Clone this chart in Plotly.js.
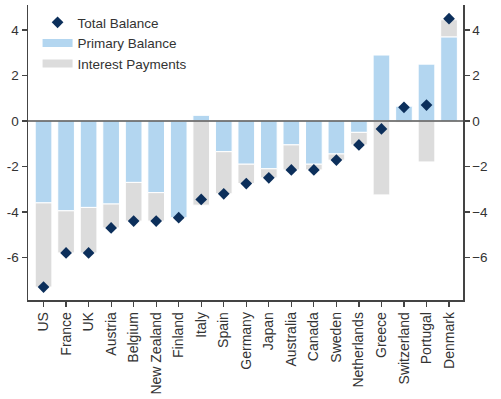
<!DOCTYPE html>
<html><head><meta charset="utf-8">
<script src="https://cdn.plot.ly/plotly-3.0.1.min.js"></script>
<style>html,body{margin:0;padding:0;background:#fff}#c{width:501px;height:399px}</style>
</head><body><div id="c"></div>
<script>
const countries = ["US","France","UK","Austria","Belgium","New Zealand","Finland","Italy","Spain","Germany","Japan","Australia","Canada","Sweden","Netherlands","Greece","Switzerland","Portugal","Denmark"];
const primaryBalance = [-3.6,-3.95,-3.8,-3.65,-2.7,-3.15,-4.25,0.25,-1.35,-1.9,-2.1,-1.05,-1.9,-1.45,-0.5,2.9,0.65,2.5,3.7];
const interestPayments = [-3.7,-1.85,-2.0,-1.05,-1.7,-1.25,0.0,-3.7,-1.85,-0.85,-0.4,-1.1,-0.25,-0.27,-0.55,-3.25,-0.05,-1.8,0.75];
const totalBalance = [-7.3,-5.8,-5.8,-4.7,-4.4,-4.4,-4.25,-3.45,-3.2,-2.75,-2.5,-2.15,-2.15,-1.72,-1.05,-0.35,0.6,0.7,4.5];
const yTicks = [-6,-4,-2,0,2,4];

const blue = '#b3d6f0', gray = '#dcdcdc', navy = '#0c2f5b';
const font = {family:'"Liberation Sans", Arial, sans-serif', size:13.5, color:'#333'};
const xfont = {family:'"Liberation Sans", Arial, sans-serif', size:14, color:'#333'};
const yr = [-7.87, 5.1];

const traces = [
  {type:'bar', x:countries, y:primaryBalance, name:'Primary Balance', legendgroup:'pb', showlegend:false,
   marker:{color:blue, line:{color:'#fff', width:1}}, hoverinfo:'skip'},
  {type:'bar', x:countries, y:interestPayments, name:'Interest Payments', legendgroup:'ip', showlegend:false,
   marker:{color:gray, line:{color:'#fff', width:1}}, hoverinfo:'skip'},
  {type:'scatter', mode:'markers', x:countries, y:totalBalance, name:'Total Balance', yaxis:'y2',
   marker:{symbol:'diamond', size:9, color:navy}},
  {type:'scatter', mode:'lines', x:[null], y:[null], name:'Primary Balance', legendgroup:'pb',
   line:{color:blue, width:8}},
  {type:'scatter', mode:'lines', x:[null], y:[null], name:'Interest Payments', legendgroup:'ip',
   line:{color:gray, width:8}}
];

const axisCommon = {range:yr, tickvals:yTicks, ticks:'outside', ticklen:5, tickcolor:'#444', tickwidth:1.2,
  showgrid:false, zeroline:false, showline:true, linecolor:'#444', linewidth:1.5, tickfont:font, fixedrange:true};

const layout = {
  width:501, height:399,
  margin:{l:28, r:38, t:5, b:99},
  paper_bgcolor:'#fff', plot_bgcolor:'#fff',
  font:font,
  barmode:'relative', bargap:0.26,
  showlegend:true,
  legend:{x:0.022, y:0.993, xanchor:'left', yanchor:'top', bgcolor:'rgba(0,0,0,0)', font:font, traceorder:'normal', tracegroupgap:0},
  xaxis:{type:'category', range:[-0.69,18.62], ticks:'outside', ticklen:5, tickcolor:'#444', tickwidth:1.2,
    tickangle:-90, showline:true, linecolor:'#444', linewidth:1.5, showgrid:false, tickfont:xfont, mirror:false},
  yaxis:Object.assign({}, axisCommon, {side:'left', ticktext:yTicks.map(v=>String(v))}),
  yaxis2:Object.assign({}, axisCommon, {side:'right', overlaying:'y', anchor:'x'}),
  shapes:[{type:'line', xref:'paper', x0:0, x1:1, yref:'y', y0:0, y1:0, line:{color:'#555', width:1.5}, layer:'above'}]
};

Plotly.newPlot('c', traces, layout, {staticPlot:true});
</script></body></html>
